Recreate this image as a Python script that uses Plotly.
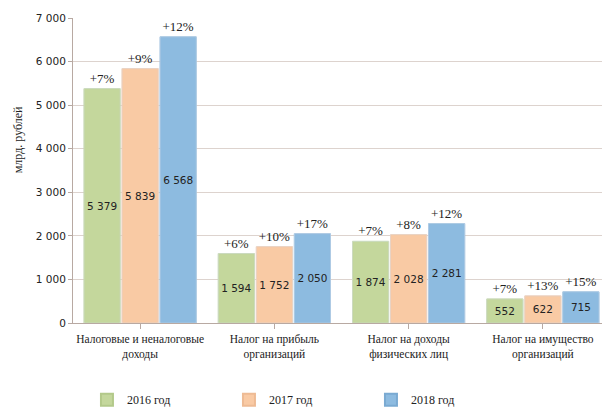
import plotly.graph_objects as go

categories = ["Налоговые и неналоговые<br>доходы", "Налог на прибыль<br>организаций",
              "Налог на доходы<br>физических лиц", "Налог на имущество<br>организаций"]
years = ["2016 год", "2017 год", "2018 год"]
values_2016 = [5379, 1594, 1874, 552]
values_2017 = [5839, 1752, 2028, 622]
values_2018 = [6568, 2050, 2281, 715]
growth_2016 = ["+7%", "+6%", "+7%", "+7%"]
growth_2017 = ["+9%", "+10%", "+8%", "+13%"]
growth_2018 = ["+12%", "+17%", "+12%", "+15%"]
y_ticks = [0, 1000, 2000, 3000, 4000, 5000, 6000, 7000]

colors = ["#c4d79c", "#f9caa4", "#8dbbe0"]
line_colors = ["#b3c98a", "#eebb94", "#7aaad2"]
series = [values_2016, values_2017, values_2018]
growths = [growth_2016, growth_2017, growth_2018]

serif = "Liberation Serif"
sans = "DejaVu Sans"

fig = go.Figure()
for i in range(3):
    fig.add_trace(go.Bar(
        x=categories, y=series[i], name=years[i], offsetgroup=str(i),
        marker=dict(color=colors[i], line=dict(color=line_colors[i], width=1)),
        texttemplate="%{y:,d}", textposition="inside", insidetextanchor="middle",
        textangle=0, constraintext="none",
        insidetextfont=dict(family=sans, size=10.5, color="#222222"),
    ))
for i in range(3):
    fig.add_trace(go.Bar(
        x=categories, y=series[i], offsetgroup=str(i), showlegend=False,
        marker=dict(color="rgba(0,0,0,0)"),
        text=growths[i], textposition="outside", textangle=0, constraintext="none",
        outsidetextfont=dict(family=serif, size=13, color="#222222"),
        cliponaxis=False, hoverinfo="skip",
    ))

fig.add_annotation(text="млрд. рублей", xref="paper", yref="paper",
                   x=-0.102, y=0.6, xanchor="center", yanchor="middle",
                   textangle=-90, showarrow=False,
                   font=dict(family=serif, size=12, color="#222222"))

fig.update_layout(
    width=602, height=400,
    margin=dict(l=65, r=0, t=10, b=85, autoexpand=False),
    paper_bgcolor="white", plot_bgcolor="white",
    barmode="group", bargap=0.15, bargroupgap=0.05,
    separators=", ",
    showlegend=True,
    legend=dict(orientation="h", x=0.026, y=-0.204, xanchor="left", yanchor="top",
                entrywidth=97, font=dict(family=serif, size=12, color="#222222"),
                itemsizing="constant"),
    xaxis=dict(showline=True, linecolor="#b8a9a2", linewidth=1,
               ticks="outside", ticklen=5, tickcolor="#b8a9a2",
               tickfont=dict(family=serif, size=11.5, color="#222222"),
               showgrid=False),
    yaxis=dict(range=[0, 7000], tickvals=y_ticks, tickformat=",d",
               showline=True, linecolor="#b8a9a2", linewidth=1,
               ticks="outside", ticklen=4, tickcolor="#b8a9a2",
               gridcolor="#ddd3ce", gridwidth=1, zeroline=False,
               tickfont=dict(family=sans, size=10.5, color="#222222")),
)

fig.write_html("out.html")
